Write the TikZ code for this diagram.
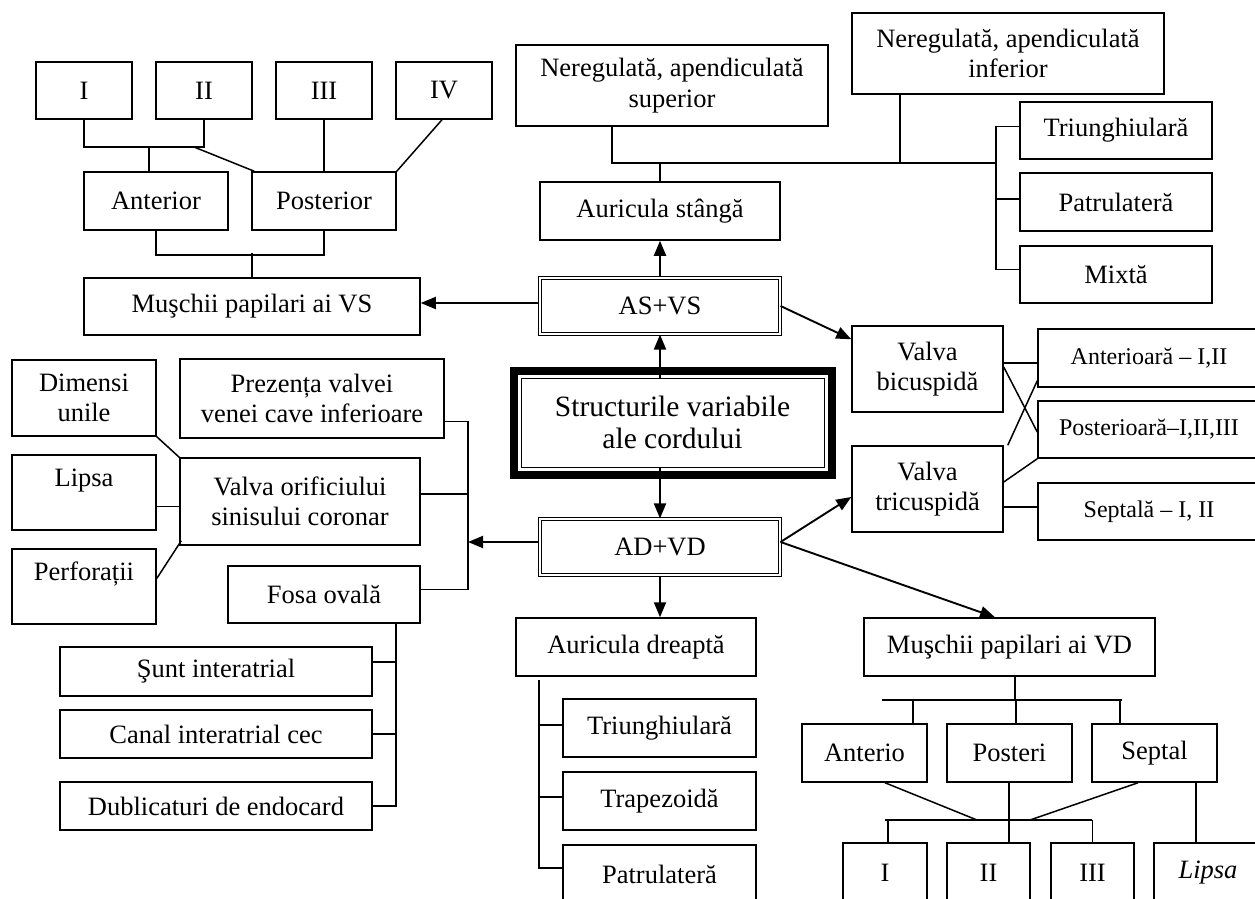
\documentclass[tikz,border=0pt]{standalone}
\usepackage{fontspec}
\setmainfont{Liberation Serif}
\usetikzlibrary{arrows.meta,calc}

\tikzset{
    box/.style={draw, line width=1.5pt, inner sep=0pt, align=center, font=\fontsize{26.5}{30.5}\selectfont},
    rbox/.style={box, font=\fontsize{24}{28}\selectfont},
    dbox/.style={box, double, line width=1.1pt, double distance=2.4pt},
    sz/.style 2 args={minimum width=#1pt, minimum height=#2pt},
    ln/.style={line width=1.5pt},
    arr/.style={line width=1.9pt, -{Triangle[length=15pt,width=12pt]}}
}

\begin{document}
\begin{tikzpicture}[x=1pt,y=-1pt]
    %%%%% START %%%%%
    \useasboundingbox (0,0) rectangle (1255,899);

    % muschii papilari VS
    \node[box, sz={96}{57}] (r1) at (84,90.5) {I};
    \node[box, sz={96}{57}] (r2) at (204,90.5) {II};
    \node[box, sz={96}{57}] (r3) at (324,90.5) {III};
    \node[box, sz={96}{57}] (r4) at (444,90.5) {IV};
    \node[box, sz={144}{58}] (antS) at (156,201) {Anterior};
    \node[box, sz={144}{58}] (postS) at (324,201) {Posterior};
    \node[box, sz={336}{57}] (mpVS) at (252,306.5) {Muşchii papilari ai VS};

    \coordinate (jS) at (149,147);
    \coordinate (kS) at (194,147);
    \draw[ln] (r1.south) |- (jS) -| (r2.south);
    \draw[ln] (jS) -- (jS |- antS.north);
    \draw[ln] (kS) -- ([xshift=3pt]postS.north west);
    \draw[ln] (r3.south) -- (postS.north);
    \draw[ln] ([xshift=-2pt]r4.south) -- (postS.north east);
    \draw[ln] (antS.south) -- ++(0,24) -| (postS.south);
    \draw[ln] (mpVS.north) -- ++(0,-24);

    % auricula stanga
    \node[box, sz={312}{81}] (nerSup) at (672,85.5) {Neregulată, apendiculată\\superior};
    \node[box, sz={312}{81}] (nerInf) at (1008,53.5) {Neregulată, apendiculată\\inferior};
    \node[box, sz={240}{58}] (aurS) at (660,211) {Auricula stângă};
    \node[box, sz={192}{57}] (triS) at (1116,130.5) {Triunghiulară};
    \node[box, sz={192}{58}] (patS) at (1116,202) {Patrulateră};
    \node[box, sz={192}{57}] (mixS) at (1116,274.5) {Mixtă};

    \coordinate (hS) at (996,163);
    \draw[ln] (aurS.north) -- (aurS.north |- hS);
    \draw[ln] ([xshift=-60pt]nerSup.south) |- (hS);
    \draw[ln] ([xshift=-108pt]nerInf.south) -- ([xshift=-108pt]nerInf.south |- hS);
    \draw[ln] ([yshift=4pt]triS.west) -| (hS) |- ([yshift=5pt]mixS.west);
    \draw[ln] ([yshift=3pt]patS.west) -- ++(-24,0);

    % centru
    \node[dbox, sz={240}{56}] (asvs) at (660,306) {AS+VS};
    \node[box, line width=1pt, sz={303}{89}, font=\fontsize{29.5}{32}\selectfont] (core) at (672.5,422.5) {Structurile variabile\\ale cordului};
    \draw[line width=8pt] ($(core.north west)+(-7pt,7pt)$) rectangle ($(core.south east)+(7pt,-7pt)$);
    \node[dbox, sz={240}{56}] (advd) at (660,547) {AD+VD};

    % valve
    \node[box, sz={151}{86}] (vbic) at (927.5,369) {Valva\\bicuspidă};
    \node[box, sz={151}{86}] (vtri) at (927.5,489) {Valva\\tricuspidă};
    \node[rbox, sz={222}{58}] (antI) at (1149,358) {Anterioară – I,II};
    \node[rbox, sz={222}{57}] (posI) at (1149,429.5) {Posterioară–I,II,III};
    \node[rbox, sz={222}{57}] (sepI) at (1149,511.5) {Septală – I, II};

    \draw[ln] ([yshift=6pt]vbic.east) -- ([yshift=6pt]vbic.east -| antI.west);
    \draw[ln] ([yshift=2pt]vbic.east) -- ([yshift=-2.5pt]posI.west);
    \draw[ln] ([xshift=4pt]vtri.north east) -- ([yshift=7pt]antI.south west);
    \draw[ln] ([yshift=7pt]vtri.east) -- (posI.south west);
    \draw[ln] ([yshift=-18pt]vtri.east) -- ([yshift=-18pt]vtri.east -| sepI.west);

    % sinus coronar, fosa ovala
    \node[box, sz={144}{76}] (dim) at (84,398) {Dimensi\\unile};
    \node[box, sz={144}{75}] (lip) at (84,492.5) {Lipsa\\\mbox{}};
    \node[box, sz={144}{75}] (perf) at (84,586.5) {Perforații\\\mbox{}};
    \node[box, sz={264}{79}] (prez) at (312,398.5) {Prezența valvei\\venei cave inferioare};
    \node[box, sz={240}{87}] (valo) at (300,501.5) {Valva orificiului\\sinisului coronar};
    \node[box, sz={192}{57}] (fosa) at (324,594.5) {Fosa ovală};
    \node[box, sz={312}{49}] (sunt) at (216,671.5) {Şunt interatrial};
    \node[box, sz={312}{48}] (canal) at (216,734) {Canal interatrial cec};
    \node[box, sz={312}{48}] (dubl) at (216,806) {Dublicaturi de endocard};

    \coordinate (lbr) at (468,542);
    \draw[ln] (dim.south east) -- (valo.north west);
    \draw[ln] ([yshift=-14pt]lip.east) -- ([yshift=-14pt]lip.east -| valo.west);
    \draw[ln] ([yshift=8pt]perf.east) -- ([xshift=2pt,yshift=5pt]valo.south west);
    \draw[ln] ([yshift=-23pt]prez.east) -| (lbr) |- ([yshift=5pt]fosa.east);
    \draw[ln] ([yshift=7.5pt]valo.east) -- ([yshift=7.5pt]valo.east -| lbr);
    \draw[ln] ([xshift=72pt]fosa.south) |- (dubl.east);
    \draw[ln] ([yshift=9.5pt]sunt.east) -- ++(24,0);
    \draw[ln] (canal.east) -- ++(24,0);

    % auricula dreapta
    \node[box, sz={240}{58}] (aurD) at (636,647) {Auricula dreaptă};
    \node[box, sz={193}{58}] (triD) at (659.5,728) {Triunghiulară};
    \node[box, sz={193}{58}] (trap) at (659.5,801) {Trapezoidă};
    \node[box, sz={193}{58}] (patD) at (659.5,874) {Patrulateră};

    \draw[ln] ([xshift=-97pt,yshift=-3pt]aurD.south) |- ([yshift=6pt]patD.west);
    \draw[ln] ([yshift=3pt]triD.west) -- ++(-24,0);
    \draw[ln] ([yshift=4pt]trap.west) -- ++(-24,0);

    % muschii papilari VD
    \node[box, sz={291}{58}] (mpVD) at (1009.5,647) {Muşchii papilari ai VD};
    \node[box, sz={125}{58}] (antV) at (864.5,753) {Anterio};
    \node[box, sz={125}{58}] (posV) at (1009.5,753) {Posteri};
    \node[box, sz={125}{58}] (sepV) at (1154.5,753) {Septal};
    \node[box, sz={84}{60}] (bI) at (885,873) {I};
    \node[box, sz={83}{60}] (bII) at (988.5,873) {II};
    \node[box, sz={83}{60}] (bIII) at (1092.5,873) {III};
    \node[box, sz={108}{60}] (bLip) at (1208,873) {\textit{Lipsa}};

    \coordinate (hl) at (882,700);
    \coordinate (hr) at (1122,700);
    \draw[ln] (hl) -- (hr);
    \draw[ln] ([xshift=5.5pt]mpVD.south) -- ([xshift=5.5pt]mpVD.south |- hl);
    \draw[ln] ([xshift=48.5pt]antV.north) -- ([xshift=48.5pt]antV.north |- hl);
    \draw[ln] ([xshift=6.5pt]posV.north) -- ([xshift=6.5pt]posV.north |- hl);
    \draw[ln] ([xshift=-34.5pt]sepV.north) -- ([xshift=-34.5pt]sepV.north |- hl);

    \coordinate (gl) at (885,820);
    \coordinate (gr) at (1092,820);
    \coordinate (ga) at (977,820);
    \coordinate (gb) at (1030,820);
    \draw[ln] (gl) -- (gr);
    \draw[ln] ([xshift=20.5pt]antV.south) -- (ga);
    \draw[ln] ([xshift=-16.5pt]sepV.south) -- (gb);
    \draw[ln] ([xshift=-0.5pt]posV.south) -- ([xshift=-0.5pt]posV.south |- bII.north);
    \draw[ln] ([xshift=3pt]bI.north) -- ([xshift=3pt]bI.north |- gl);
    \draw[ln] (bIII.north) -- (bIII.north |- gr);
    \draw[ln] ([xshift=41.5pt]sepV.south) -- ([xshift=41.5pt]sepV.south |- bLip.north);

    % sageti
    \draw[arr] (asvs.south |- core.north) -- (asvs.south);
    \draw[arr] (asvs.north) -- (aurS.south);
    \draw[arr] ([yshift=3pt]asvs.west) -- ([yshift=3pt]asvs.west -| mpVS.east);
    \draw[arr] (asvs.east) -- ([yshift=-14pt]vbic.north west);
    \draw[arr] (advd.north |- core.south) -- (advd.north);
    \draw[arr] ([yshift=5pt]advd.west) -- (lbr);
    \draw[arr] ([yshift=5pt]advd.east) -- ([yshift=-8pt]vtri.west);
    \draw[arr] ([yshift=5pt]advd.east) -- ([xshift=-14.5pt]mpVD.north);
    \draw[arr] (advd.south) -- (advd.south |- aurD.north);

    %%%%% END %%%%%
\end{tikzpicture}
\end{document}
